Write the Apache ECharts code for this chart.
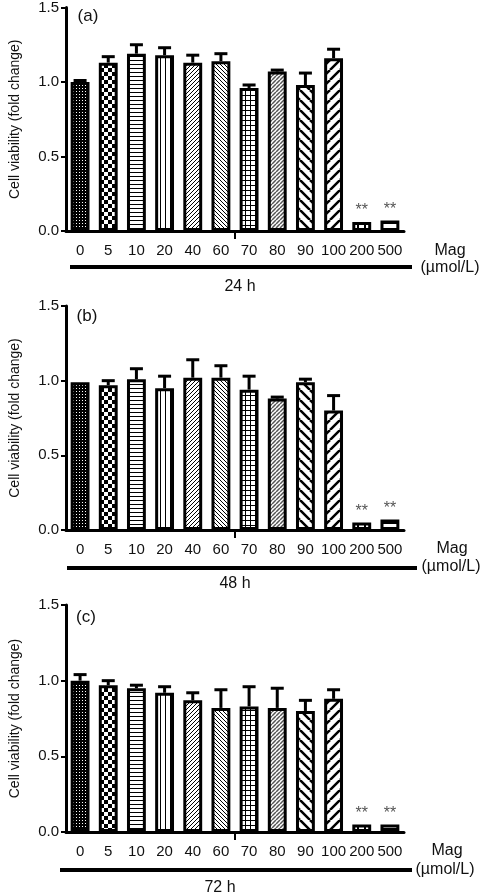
<!DOCTYPE html>
<html><head><meta charset="utf-8">
<script src="https://cdn.jsdelivr.net/npm/echarts@6/dist/echarts.min.js"></script>
<style>html,body{margin:0;padding:0;background:#fff}#c{width:482px;height:894px}</style>
</head><body><div id="c"></div>
<script>
// ---- data ----
const categories = ['0','5','10','20','40','60','70','80','90','100','200','500'];
const yTickMin = 0, yTickMax = 1.5, yTickStep = 0.5;
const meanA = [1.00,1.13,1.19,1.18,1.13,1.14,0.96,1.07,0.98,1.16,0.06,0.07];
const sdA   = [0.01,0.04,0.06,0.05,0.05,0.05,0.02,0.01,0.08,0.06,0,0];
const meanB = [0.99,0.97,1.01,0.95,1.02,1.02,0.94,0.88,0.99,0.80,0.05,0.07];
const sdB   = [0.00,0.03,0.07,0.08,0.12,0.08,0.09,0.01,0.02,0.10,0,0];
const meanC = [1.00,0.97,0.95,0.92,0.87,0.82,0.83,0.82,0.80,0.88,0.05,0.05];
const sdC   = [0.04,0.03,0.02,0.04,0.05,0.12,0.13,0.13,0.07,0.06,0,0];
const sig   = ['','','','','','','','','','','**','**'];
const panelTags = ['(a)','(b)','(c)'];
const timeLabels = ['24 h','48 h','72 h'];
const yName = 'Cell viability (fold change)';
const unitName = 'Mag';
const unitSub = '(\u00b5mol/L)';

// ---- patterns ----
function pat(w,h,draw){
  const c=document.createElement('canvas');c.width=w;c.height=h;
  const x=c.getContext('2d');x.fillStyle='#fff';x.fillRect(0,0,w,h);
  x.fillStyle='#000';x.strokeStyle='#000';draw(x,w,h);
  return {image:c,repeat:'repeat'};
}
function diag(dir,s,lw,col){
  return pat(s,s,function(x){
    x.strokeStyle=col||'#000';x.lineWidth=lw;x.beginPath();
    for(let k=-1;k<=1;k++){
      if(dir==='/'){x.moveTo(k*s,s);x.lineTo(k*s+s,0);}
      else {x.moveTo(k*s,0);x.lineTo(k*s+s,s);}
    }
    x.stroke();
  });
}
const patterns = [
  pat(3,3,function(x){x.fillRect(0,0,3,3);x.fillStyle='#fff';x.fillRect(1,1,1,1);}),
  pat(8,8,function(x){x.fillRect(0,0,4,4);x.fillRect(4,4,4,4);}),
  pat(4,4,function(x){x.fillRect(0,0,4,1);}),
  pat(5,5,function(x){x.fillRect(0,0,1,5);}),
  diag('/',4,1),
  diag('\\',4,1),
  pat(5,5,function(x){x.fillRect(0,0,5,1);x.fillRect(0,0,1,5);}),
  diag('/',4,1.5,'#555'),
  diag('\\',10,2.5),
  diag('/',10,2.5),
  pat(7,7,function(x){x.fillRect(0,0,2,7);}),
  pat(6,6,function(x){x.fillRect(0,0,6,2);})
];

// ---- layout ----
const grids = [
  {top:6, height:225},
  {top:306, height:224},
  {top:605, height:227}
];
const means = [meanA,meanB,meanC];
const sds = [sdA,sdB,sdC];
const FONT = 'Liberation Sans';

const option = {
  animation:false,
  backgroundColor:'#fff',
  textStyle:{fontFamily:FONT},
  grid: grids.map(g=>({left:62,right:78,top:g.top,height:g.height})),
  xAxis: [],
  yAxis: [],
  series: [],
  graphic: []
};

grids.forEach(function(g,p){
  option.xAxis.push({
    type:'category', gridIndex:p, data:categories,
    axisLine:{lineStyle:{color:'#000',width:3}},
    axisTick:{show:false},
    axisLabel:{color:'#111',fontSize:15,margin:12,interval:0,fontFamily:FONT}
  });
  option.xAxis.push({
    type:'category', gridIndex:p, data:['','',''], boundaryGap:false, position:'bottom',
    axisLine:{show:false},
    axisTick:{show:true,interval:function(i){return i===1;},length:8,lineStyle:{color:'#000',width:2}},
    axisLabel:{show:false}
  });
  option.yAxis.push({
    type:'value', gridIndex:p, min:yTickMin, max:yTickMax, interval:yTickStep,
    axisLine:{show:true,lineStyle:{color:'#000',width:3}},
    axisTick:{show:true,length:5,lineStyle:{color:'#000',width:2}},
    splitLine:{show:false},
    axisLabel:{color:'#111',fontSize:15,margin:7,formatter:function(v){return v.toFixed(1);}},
    name:yName, nameLocation:'middle', nameGap:44,
    nameTextStyle:{color:'#111',fontSize:14}
  });
  option.series.push({
    type:'bar', xAxisIndex:p*2, yAxisIndex:p, barWidth:'67%',
    itemStyle:{borderColor:'#000',borderWidth:3},
    data: means[p].map(function(v,i){
      return {value:v, itemStyle:{color:patterns[i]},
        label:{show:sig[i]!=='',formatter:sig[i],position:'top',distance:3,color:'#555',fontSize:16}};
    })
  });
  option.series.push({
    type:'custom', xAxisIndex:p*2, yAxisIndex:p, z:5,
    data: means[p].map(function(v,i){return [i,v,sds[p][i]];}),
    encode:{x:0,y:1},
    renderItem:function(params,api){
      const i=api.value(0), m=api.value(1), s=api.value(2);
      if(!(s>0)) return null;
      const a=api.coord([i,m]), b=api.coord([i,m+s]);
      return {type:'group',children:[
        {type:'line',shape:{x1:a[0],y1:a[1],x2:b[0],y2:b[1]},style:{stroke:'#000',lineWidth:3}},
        {type:'line',shape:{x1:b[0]-6.5,y1:b[1],x2:b[0]+6.5,y2:b[1]},style:{stroke:'#000',lineWidth:3}}
      ]};
    }
  });
});

// decorations
const deco = [
  {tag:[88,16], line:[70,412,267], time:[240,287], mag:[450,251], sub:[450,268]},
  {tag:[87,316], line:[67,417,568], time:[235,584], mag:[452,549], sub:[451,567]},
  {tag:[86,617], line:[60,412,870], time:[220,888], mag:[447,851], sub:[445,870]}
];
deco.forEach(function(d,p){
  option.graphic.push({type:'text',x:d.tag[0],y:d.tag[1],style:{text:panelTags[p],font:'17px '+FONT,fill:'#111',align:'center',verticalAlign:'middle'}});
  option.graphic.push({type:'line',shape:{x1:d.line[0],y1:d.line[2],x2:d.line[1],y2:d.line[2]},style:{stroke:'#000',lineWidth:4}});
  option.graphic.push({type:'text',x:d.time[0],y:d.time[1],style:{text:timeLabels[p],font:'16px '+FONT,fill:'#111',align:'center',verticalAlign:'middle'}});
  option.graphic.push({type:'text',x:d.mag[0],y:d.mag[1],style:{text:unitName,font:'16px '+FONT,fill:'#111',align:'center',verticalAlign:'middle'}});
  option.graphic.push({type:'text',x:d.sub[0],y:d.sub[1],style:{text:unitSub,font:'16px '+FONT,fill:'#111',align:'center',verticalAlign:'middle'}});
});

const chart = echarts.init(document.getElementById('c'),null,{renderer:'canvas'});
chart.setOption(option);
</script>
</body></html>
